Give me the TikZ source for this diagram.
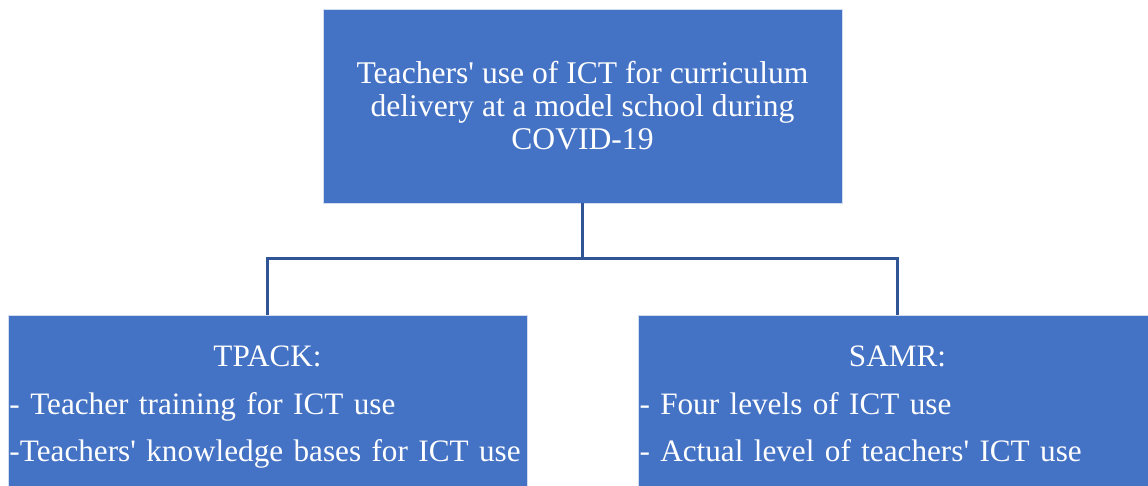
\documentclass[tikz,border=0pt]{standalone}
\usepackage{fontspec}
\setmainfont{Liberation Serif}
\usetikzlibrary{positioning}
\definecolor{BoxBlue}{HTML}{4472C4}
\definecolor{LinkBlue}{HTML}{2F5597}
% straight apostrophe and fixed line struts for the lower boxes
\newcommand{\apos}{\textquotesingle}
\newcommand{\topstrut}{\rule{0pt}{24.9pt}}
\newcommand{\botstrut}{\rule[-22.7pt]{0pt}{1pt}}
\tikzset{
  topbox/.style={draw=white!75!BoxBlue, line width=0.6pt, fill=BoxBlue, text=white, align=center, minimum width=389.25pt, minimum height=145.5pt, inner sep=0pt, font=\fontsize{23.7}{24.75}\selectfont},
  sidebox/.style={draw=white!75!BoxBlue, line width=0.6pt, fill=BoxBlue, text=white, align=left, text width=387pt, minimum width=389.25pt, minimum height=145.5pt, inner xsep=1.1pt, inner ysep=0pt, font=\fontsize{23.4}{35.6}\selectfont},
  link/.style={draw=LinkBlue, line width=1.8pt}
}
\begin{document}
\begin{tikzpicture}[x=0.75pt, y=-0.75pt]
\clip (0,0) rectangle (1148,485);
\fill[white] (0,0) rectangle (1148,485);
\node[topbox] (goal) at (582.5,106) {Teachers\apos{} use of ICT for curriculum\\delivery at a model school during\\COVID-19};
\node[sidebox, below=84pt of goal, xshift=-236.25pt] (tpack) {\topstrut\hfill TPACK:\hfill\mbox{}\\- Teacher training for ICT use\\-Teachers\apos{} knowledge bases for ICT use\botstrut};
\node[sidebox, below=84pt of goal, xshift=236.25pt] (samr) {\topstrut\hfill SAMR:\hfill\mbox{}\\- Four levels of ICT use\\- Actual level of teachers\apos{} ICT use\botstrut};
% elbow connectors
\coordinate (split) at (582.5,258.5);
\draw[link] (goal.south) -- (split);
\draw[link] (split) -| (tpack.north);
\draw[link] (split) -| (samr.north);
\end{tikzpicture}
\end{document}
